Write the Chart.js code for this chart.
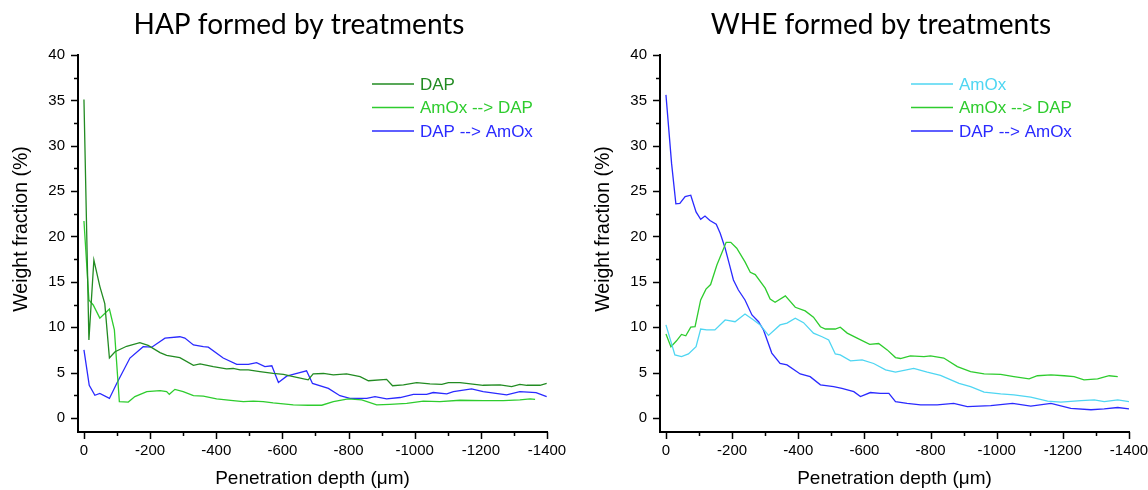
<!DOCTYPE html>
<html>
<head>
<meta charset="utf-8">
<script src="https://cdn.jsdelivr.net/npm/chart.js@4.4.1/dist/chart.umd.min.js"></script>
<style>
    html, body { margin: 0; padding: 0; background: #fff; }
    #wrap { position: relative; width: 1148px; height: 490px; overflow: hidden; }
    .panel { position: absolute; top: 0; width: 566px; height: 490px; }
</style>
</head>
<body>
<div id="wrap">
    <div class="panel" style="left:0"><canvas id="hapChart" width="566" height="490"></canvas></div>
    <div class="panel" style="left:582px"><canvas id="wheChart" width="566" height="490"></canvas></div>
</div>
<script>
// ---- axis ticks (labels on the major ones) ----
var xTicks = [0, -100, -200, -300, -400, -500, -600, -700, -800, -900, -1000, -1100, -1200, -1300, -1400];
var xLabelled = [0, -200, -400, -600, -800, -1000, -1200, -1400];
var yTicks = [0, 2.5, 5, 7.5, 10, 12.5, 15, 17.5, 20, 22.5, 25, 27.5, 30, 32.5, 35, 37.5, 40];
var yLabelled = [0, 5, 10, 15, 20, 25, 30, 35, 40];

// ---- HAP panel ----
var hapDapDepth = [0, -15, -30, -48, -63, -77, -94, -129, -169, -194, -230, -250, -290, -331, -351, -391, -431, -451, -472, -497, -532, -572, -603, -633, -678, -693, -724, -754, -794, -835, -860, -915, -933, -966, -1006, -1046, -1082, -1102, -1137, -1207, -1258, -1293, -1318, -1339, -1379, -1399];
var hapDap = [35.1, 8.6, 17.4, 14.5, 12.6, 6.6, 7.3, 7.9, 8.3, 8.0, 7.2, 6.9, 6.65, 5.8, 5.95, 5.65, 5.4, 5.45, 5.3, 5.3, 5.1, 4.9, 4.8, 4.55, 4.2, 4.85, 4.9, 4.75, 4.85, 4.55, 4.1, 4.25, 3.55, 3.65, 3.9, 3.75, 3.7, 3.9, 3.9, 3.6, 3.65, 3.45, 3.7, 3.6, 3.6, 3.8];

var hapAmoxDapDepth = [0, -15, -28, -48, -77, -92, -107, -134, -154, -190, -230, -250, -258, -275, -300, -331, -361, -401, -451, -482, -512, -542, -572, -633, -678, -719, -754, -799, -840, -885, -925, -976, -1026, -1076, -1137, -1207, -1268, -1318, -1349, -1364];
var hapAmoxDap = [21.7, 13.0, 12.45, 11.0, 12.0, 9.7, 1.8, 1.75, 2.35, 2.9, 3.0, 2.9, 2.6, 3.15, 2.9, 2.45, 2.4, 2.1, 1.9, 1.8, 1.85, 1.8, 1.65, 1.45, 1.4, 1.4, 1.8, 2.1, 2.0, 1.45, 1.5, 1.6, 1.85, 1.8, 1.95, 1.9, 1.9, 2.0, 2.1, 2.05];

var hapDapAmoxDepth = [0, -16, -33, -48, -77, -99, -139, -179, -205, -245, -290, -305, -331, -361, -376, -421, -462, -497, -522, -547, -568, -588, -613, -638, -673, -691, -739, -774, -804, -855, -880, -915, -956, -996, -1036, -1056, -1097, -1117, -1172, -1207, -1278, -1318, -1367, -1399];
var hapDapAmox = [7.5, 3.6, 2.5, 2.7, 2.15, 3.8, 6.6, 7.85, 7.8, 8.8, 8.95, 8.8, 8.05, 7.85, 7.8, 6.6, 5.9, 5.9, 6.1, 5.65, 5.75, 3.9, 4.6, 4.85, 5.2, 3.8, 3.25, 2.45, 2.15, 2.15, 2.35, 2.1, 2.25, 2.6, 2.6, 2.8, 2.65, 2.9, 3.2, 2.9, 2.55, 2.9, 2.8, 2.35];

// ---- WHE panel ----
var wheAmoxDepth = [0, -27, -47, -68, -91, -105, -123, -148, -179, -209, -239, -265, -285, -310, -345, -366, -391, -416, -446, -472, -492, -512, -527, -558, -593, -628, -664, -694, -749, -790, -830, -886, -921, -962, -1012, -1052, -1103, -1154, -1194, -1255, -1295, -1325, -1366, -1400];
var wheAmox = [10.25, 6.95, 6.75, 7.05, 7.85, 9.8, 9.7, 9.7, 10.8, 10.6, 11.45, 10.8, 10.25, 9.1, 10.25, 10.45, 11.0, 10.5, 9.35, 8.95, 8.6, 7.05, 6.95, 6.3, 6.4, 6.0, 5.3, 5.05, 5.45, 5.05, 4.7, 3.8, 3.45, 2.85, 2.65, 2.55, 2.3, 1.85, 1.75, 1.9, 2.0, 1.8, 2.0, 1.8];

var wheAmoxDapDepth = [0, -15, -32, -47, -60, -75, -88, -105, -121, -135, -154, -182, -196, -214, -239, -255, -270, -300, -315, -330, -361, -391, -421, -446, -467, -482, -512, -527, -548, -578, -616, -643, -669, -694, -709, -739, -780, -800, -840, -881, -921, -962, -1012, -1052, -1098, -1123, -1164, -1204, -1234, -1264, -1305, -1340, -1366];
var wheAmoxDap = [9.25, 7.85, 8.5, 9.2, 9.05, 10.0, 10.05, 13.0, 14.2, 14.7, 16.85, 19.35, 19.35, 18.7, 17.2, 16.05, 15.8, 14.3, 13.1, 12.75, 13.45, 12.2, 11.8, 11.1, 10.05, 9.8, 9.8, 10.0, 9.35, 8.8, 8.1, 8.2, 7.5, 6.65, 6.55, 6.85, 6.75, 6.85, 6.6, 5.65, 5.1, 4.85, 4.8, 4.55, 4.3, 4.65, 4.75, 4.65, 4.55, 4.2, 4.3, 4.65, 4.55];

var wheDapAmoxDepth = [0, -17, -30, -42, -58, -75, -91, -105, -118, -133, -152, -164, -179, -192, -204, -219, -239, -260, -280, -295, -320, -345, -366, -406, -436, -467, -507, -532, -568, -588, -618, -648, -674, -694, -729, -770, -820, -870, -911, -982, -1048, -1103, -1164, -1224, -1285, -1325, -1366, -1400];
var wheDapAmox = [35.6, 28.05, 23.6, 23.65, 24.4, 24.55, 22.7, 21.9, 22.25, 21.75, 21.35, 20.35, 18.7, 16.9, 15.2, 14.1, 13.0, 11.35, 10.6, 9.7, 7.15, 6.0, 5.85, 4.85, 4.55, 3.65, 3.45, 3.25, 2.9, 2.35, 2.8, 2.7, 2.7, 1.8, 1.6, 1.45, 1.45, 1.6, 1.25, 1.35, 1.6, 1.3, 1.6, 1.05, 0.9, 1.0, 1.15, 1.0];

function pairs(xs, ys) {
    return xs.map(function (x, i) { return { x: x, y: ys[i] }; });
}

// short outward tick marks, longer on the labelled ones
var axisTicks = {
    id: 'axisTicks',
    afterDraw: function (chart) {
        var ctx = chart.ctx, xs = chart.scales.x, ys = chart.scales.y;
        var area = chart.chartArea;
        ctx.save();
        ctx.strokeStyle = '#000';
        ctx.lineWidth = 1.5;
        ctx.beginPath();
        xTicks.forEach(function (v) {
            var px = Math.round(xs.getPixelForValue(v)) + 0.5;
            var len = xLabelled.indexOf(v) >= 0 ? 7 : 4;
            ctx.moveTo(px, area.bottom);
            ctx.lineTo(px, area.bottom + len);
        });
        yTicks.forEach(function (v) {
            var py = Math.round(ys.getPixelForValue(v)) + 0.5;
            var len = yLabelled.indexOf(v) >= 0 ? 7 : 4;
            ctx.moveTo(area.left, py);
            ctx.lineTo(area.left - len, py);
        });
        ctx.stroke();
        ctx.restore();
    }
};

// panel heading, y-axis caption and in-plot legend
var panelText = {
    id: 'panelText',
    afterDraw: function (chart, args, opts) {
        var ctx = chart.ctx, area = chart.chartArea;
        ctx.save();
        ctx.fillStyle = '#000';
        ctx.font = '28px Lato, "Open Sans", sans-serif';
        ctx.textAlign = 'center';
        ctx.textBaseline = 'alphabetic';
        ctx.fillText(opts.title, opts.titleX, 34);

        // y caption, sits a little above the axis middle like the original
        ctx.save();
        ctx.translate(22, 229);
        ctx.rotate(-Math.PI / 2);
        ctx.font = '19.5px "Liberation Sans", Arial, sans-serif';
        ctx.textBaseline = 'middle';
        ctx.fillText('Weight fraction (%)', 0, 0);
        ctx.restore();

        ctx.font = '17px "Liberation Sans", Arial, sans-serif';
        ctx.textAlign = 'left';
        ctx.textBaseline = 'middle';
        chart.data.datasets.forEach(function (ds, i) {
            var y = area.top + 29 + i * 23.5;
            ctx.strokeStyle = ds.borderColor;
            ctx.lineWidth = 1.3;
            ctx.beginPath();
            ctx.moveTo(area.right - opts.legendRight, y);
            ctx.lineTo(area.right - opts.legendRight + 42, y);
            ctx.stroke();
            ctx.fillStyle = ds.borderColor;
            ctx.fillText(ds.label, area.right - opts.legendRight + 48, y + 1);
        });
        ctx.restore();
    }
};

function lineSet(label, xs, ys, color) {
    return {
        label: label,
        data: pairs(xs, ys),
        borderColor: color,
        backgroundColor: color,
        borderWidth: 1.3,
        pointRadius: 0,
        tension: 0,
        fill: false
    };
}

function renderPanel(id, title, datasets, legendRight) {
    var el = document.getElementById(id);
    var tickFont = { family: '"Liberation Sans", Arial, sans-serif', size: 15 };
    var titleFont = { family: '"Liberation Sans", Arial, sans-serif', size: 19 };
    return new Chart(el.getContext('2d'), {
        type: 'line',
        data: { datasets: datasets },
        plugins: [axisTicks, panelText],
        options: {
            responsive: false,
            animation: false,
            devicePixelRatio: 1,
            layout: { autoPadding: false, padding: { left: 7, right: 19, top: 55, bottom: 0 } },
            plugins: {
                legend: { display: false },
                tooltip: { enabled: false },
                panelText: { title: title, titleX: 299, legendRight: legendRight }
            },
            scales: {
                x: {
                    type: 'linear',
                    reverse: true,
                    min: -1400,
                    max: 18,
                    afterBuildTicks: function (s) { s.ticks = xLabelled.map(function (v) { return { value: v }; }); },
                    afterFit: function (s) { s.height = 58; s.paddingLeft = 0; s.paddingRight = 0; },
                    grid: { display: false, drawTicks: false },
                    border: { display: true, color: '#000', width: 2 },
                    ticks: {
                        color: '#000', font: tickFont, padding: 10, maxRotation: 0, autoSkip: false,
                        callback: function (v) { return String(v); }
                    },
                    title: { display: true, text: 'Penetration depth (\u03bcm)', color: '#000', font: titleFont, padding: 0 }
                },
                y: {
                    min: -1.55,
                    max: 40,
                    afterBuildTicks: function (s) { s.ticks = yLabelled.map(function (v) { return { value: v }; }); },
                    afterFit: function (s) { s.width = 71; s.paddingTop = 0; s.paddingBottom = 0; },
                    grid: { display: false, drawTicks: false },
                    border: { display: true, color: '#000', width: 2 },
                    ticks: {
                        color: '#000', font: tickFont, padding: 13,
                        callback: function (v) { return String(v); }
                    }
                }
            }
        }
    });
}

renderPanel('hapChart', 'HAP formed by treatments', [
    lineSet('DAP', hapDapDepth, hapDap, '#228b22'),
    lineSet('AmOx --> DAP', hapAmoxDapDepth, hapAmoxDap, '#2ecc2e'),
    lineSet('DAP --> AmOx', hapDapAmoxDepth, hapDapAmox, '#2a2aff')
], 175);

renderPanel('wheChart', 'WHE formed by treatments', [
    lineSet('AmOx', wheAmoxDepth, wheAmox, '#4fd6f2'),
    lineSet('AmOx --> DAP', wheAmoxDapDepth, wheAmoxDap, '#2ecc2e'),
    lineSet('DAP --> AmOx', wheDapAmoxDepth, wheDapAmox, '#2a2aff')
], 218);
</script>
</body>
</html>
